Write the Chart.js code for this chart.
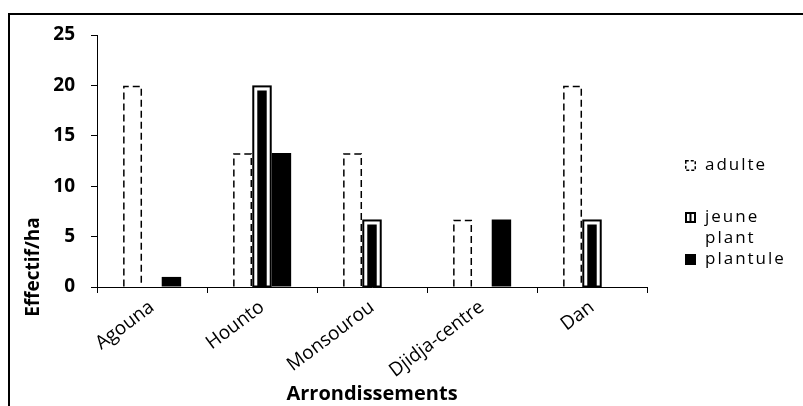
<!DOCTYPE html>
<html><head><meta charset="utf-8">
<script src="https://cdn.jsdelivr.net/npm/chart.js@4/dist/chart.umd.min.js"></script>
<style>html,body{margin:0;padding:0;background:#fff;}canvas{display:block;}</style>
</head><body>
<canvas id="c" width="803" height="406"></canvas>
<script>
// ---- data ----
const categories = ['Agouna', 'Hounto', 'Monsourou', 'Djidja-centre', 'Dan'];
const adulte     = [20, 13.3, 13.3, 6.7, 20];
const jeunePlant = [0, 20, 6.7, 0, 6.7];
const plantule   = [1, 13.3, 0, 6.7, 0];
const seriesNames = ['adulte', 'jeune plant', 'plantule'];
const yTicks = [0, 5, 10, 15, 20, 25];
const xTitle = 'Arrondissements';
const yTitle = 'Effectif/ha';

const FONT = "'Open Sans', 'Liberation Sans', sans-serif";

const frame = {
  id: 'frame',
  beforeUpdate(chart) { chart.ctx.letterSpacing = '0px'; },
  beforeDraw(chart) {
    const ctx = chart.ctx;
    ctx.letterSpacing = '0px';
    ctx.save();
    ctx.strokeStyle = '#000';
    ctx.lineWidth = 2;
    ctx.beginPath();
    ctx.moveTo(9, chart.height);
    ctx.lineTo(9, 14);
    ctx.lineTo(chart.width, 14);
    ctx.stroke();
    ctx.restore();
  }
};

const barStyles = {
  id: 'barStyles',
  afterDatasetsDraw(chart) {
    const ctx = chart.ctx;
    ctx.save();
    ctx.strokeStyle = '#000';
    // adulte : dashed outline
    ctx.lineWidth = 1.5;
    ctx.setLineDash([7, 4]);
    chart.getDatasetMeta(0).data.forEach((el, i) => {
      if (!adulte[i]) return;
      const p = el.getProps(['x', 'y', 'base', 'width'], true);
      const l = p.x - p.width / 2 + 1, r = p.x + p.width / 2 - 1;
      ctx.beginPath();
      ctx.moveTo(l, p.base);
      ctx.lineTo(l, p.y + 1);
      ctx.lineTo(r, p.y + 1);
      ctx.lineTo(r, p.base);
      ctx.stroke();
    });
    ctx.setLineDash([]);
    // jeune plant : outer black frame
    ctx.lineWidth = 2;
    chart.getDatasetMeta(1).data.forEach((el, i) => {
      if (!jeunePlant[i]) return;
      const p = el.getProps(['x', 'y', 'base', 'width'], true);
      ctx.strokeRect(p.x - p.width / 2 + 1, p.y + 1, p.width - 2, p.base - p.y - 1);
    });
    ctx.restore();
  }
};

const yTitlePlugin = {
  id: 'yTitlePlugin',
  afterDraw(chart) {
    const ctx = chart.ctx, a = chart.chartArea;
    ctx.save();
    ctx.letterSpacing = '0px';
    ctx.translate(a.left - 63, a.bottom - 20);
    ctx.rotate(-Math.PI / 2);
    ctx.font = "bold 19px " + FONT;
    ctx.fillStyle = '#000';
    ctx.textAlign = 'center';
    ctx.textBaseline = 'middle';
    ctx.fillText(yTitle, 0, 0);
    ctx.restore();
  }
};

const legendPlugin = {
  id: 'legendPlugin',
  afterDraw(chart) {
    const ctx = chart.ctx, a = chart.chartArea;
    const x0 = a.right + 38;
    const firstLineY = [a.top + 130, a.top + 182, a.top + 224];
    const lineH = 21;
    ctx.save();
    ctx.letterSpacing = '2px';
    ctx.font = "17px " + FONT;
    ctx.textBaseline = 'middle';
    seriesNames.forEach((name, k) => {
      const lines = name.split(' ');
      const y = firstLineY[k];
      const bx = x0, by = y - 5, s = 11;
      if (k === 0) {
        ctx.fillStyle = '#fff'; ctx.fillRect(bx, by, s, s);
        ctx.strokeStyle = '#000'; ctx.lineWidth = 1.5; ctx.setLineDash([3, 2]);
        ctx.strokeRect(bx + 0.75, by + 0.75, s - 1.5, s - 1.5);
        ctx.setLineDash([]);
      } else if (k === 1) {
        ctx.fillStyle = '#000'; ctx.fillRect(bx, by, s, s);
        ctx.fillStyle = '#fff'; ctx.fillRect(bx + 2, by + 2, s - 4, s - 4);
        ctx.fillStyle = '#000'; ctx.fillRect(bx + 4.5, by + 2, 2, s - 4);
      } else {
        ctx.fillStyle = '#000'; ctx.fillRect(bx, by, s, s);
      }
      ctx.fillStyle = '#000';
      lines.forEach((t, j) => ctx.fillText(t, x0 + 20, y + j * lineH));
    });
    ctx.letterSpacing = '0px';
    ctx.restore();
    ctx.letterSpacing = '0px';
  }
};

new Chart(document.getElementById('c'), {
  type: 'bar',
  data: {
    labels: categories,
    datasets: [
      { label: seriesNames[0], data: adulte, backgroundColor: 'rgba(255,255,255,0)', borderWidth: 0 },
      { label: seriesNames[1], data: jeunePlant, backgroundColor: '#000', borderColor: '#fff', borderWidth: 5 },
      { label: seriesNames[2], data: plantule, backgroundColor: '#000', borderWidth: 0 }
    ]
  },
  options: {
    responsive: false,
    animation: false,
    devicePixelRatio: 1,
    layout: { padding: { left: 0, top: 35, right: 156, bottom: 0 } },
    datasets: { bar: { categoryPercentage: 0.53, barPercentage: 1 } },
    plugins: { legend: { display: false }, tooltip: { enabled: false } },
    scales: {
      x: {
        grid: { display: true, drawOnChartArea: false, drawTicks: true, tickLength: 6, color: '#000', offset: true },
        border: { display: true, color: '#000', width: 1 },
        ticks: { color: '#000', font: { family: FONT, size: 19 }, minRotation: 37, maxRotation: 37, padding: 3, autoSkip: false },
        title: { display: true, text: xTitle, color: '#000', font: { family: FONT, size: 20, weight: 'bold' }, padding: { top: 0, bottom: 0 } },
        afterFit(s) { s.height = 119; }
      },
      y: {
        min: 0, max: 25,
        afterBuildTicks(s) { s.ticks = yTicks.map(v => ({ value: v })); },
        grid: { drawOnChartArea: false, drawTicks: true, tickLength: 6, color: '#000' },
        border: { display: true, color: '#000', width: 1 },
        ticks: { color: '#000', font: { family: FONT, size: 19, weight: 'bold' }, padding: 16 },
        afterFit(s) { s.width = 97; }
      }
    }
  },
  plugins: [frame, barStyles, yTitlePlugin, legendPlugin]
});
</script>
</body></html>
